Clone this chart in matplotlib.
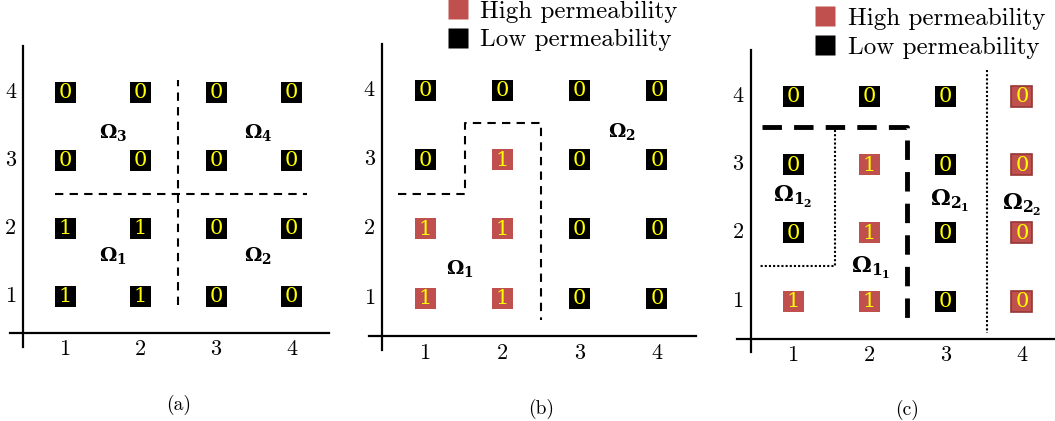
import matplotlib
matplotlib.use("Agg")
import matplotlib.pyplot as plt
from matplotlib.patches import Rectangle
from matplotlib.lines import Line2D

plt.rcParams["mathtext.fontset"] = "custom"
plt.rcParams["mathtext.rm"] = "cmr10"
plt.rcParams["mathtext.bf"] = "DejaVu Serif:bold"
plt.rcParams["axes.unicode_minus"] = False

W, H = 1055, 421
TICKS = [1, 2, 3, 4]
HIGH_COLOR = "#c0504d"
LOW_COLOR = "#000000"

# rows from y=1 upward, columns x=1..4
VALUES_A = [[1, 1, 0, 0], [1, 1, 0, 0], [0, 0, 0, 0], [0, 0, 0, 0]]
PERM_A = [["L", "L", "L", "L"]] * 4
VALUES_B = [[1, 1, 0, 0], [1, 1, 0, 0], [0, 1, 0, 0], [0, 0, 0, 0]]
PERM_B = [["H", "H", "L", "L"], ["H", "H", "L", "L"],
          ["L", "H", "L", "L"], ["L", "L", "L", "L"]]
VALUES_C = [[1, 1, 0, 0], [0, 1, 0, 0], [0, 1, 0, 0], [0, 0, 0, 0]]
PERM_C = [["H", "H", "L", "H"], ["L", "H", "L", "H"],
          ["L", "H", "L", "H"], ["L", "L", "L", "H"]]

# subdomain boundaries (x list, y list, style)
BOUNDS_A = [([2.5, 2.5], [0.87, 4.18], "thin"), ([0.87, 4.2], [2.5, 2.5], "thin")]
BOUNDS_B = [([0.65, 1.52, 1.52, 2.5, 2.5], [2.5, 2.5, 3.52, 3.52, 0.68], "thin")]
BOUNDS_C = [([0.6, 2.5, 2.5], [3.55, 3.55, 0.67], "thick"),
            ([1.55, 1.55, 0.55], [3.5, 1.51, 1.51], "dot"),
            ([3.54, 3.54], [4.38, 0.53], "dot")]

LABELS_A = [(1.64, 3.41, "3"), (3.56, 3.41, "4"), (1.64, 1.59, "1"), (3.56, 1.59, "2")]
LABELS_B = [(1.45, 1.43, "1"), (3.55, 3.4, "2")]
LABELS_C = [(1.0, 2.52, "1_2"), (2.02, 1.48, "1_1"), (3.05, 2.46, "2_1"), (4.0, 2.4, "2_2")]

LEGEND_LABELS = ["High permeability", "Low permeability"]

XLIM = (0.15, 4.75)
YLIM = (0.1, 4.75)


def rect(x1, xs, y1, ys):
    left = x1 + (XLIM[0] - 1) * xs
    width = (XLIM[1] - XLIM[0]) * xs
    top = y1 - (YLIM[1] - 1) * ys
    bottom = y1 - (YLIM[0] - 1) * ys
    return [left / W, 1 - bottom / H, width / W, (bottom - top) / H]


def draw_panel(ax, values, perm, bounds, labels, xs, ys, legend=False, caption="",
               label_size=14):
    ax.set_xlim(*XLIM)
    ax.set_ylim(*YLIM)
    ax.axis("off")

    # axes lines crossing each other
    ax.plot([0.45, 0.45], [0.25, 4.67], color="black", lw=1.6, clip_on=False)
    ax.plot([0.27, 4.5], [0.45, 0.45], color="black", lw=1.6, clip_on=False)
    for t in TICKS:
        ax.text(t, 0.21, str(t), ha="center", va="center", fontsize=16, family="cmr10")
        ax.text(0.28, t, str(t), ha="center", va="center", fontsize=16, family="cmr10")

    bw, bh = 21 / xs, 21 / ys
    for r, row in enumerate(values):
        for c, v in enumerate(row):
            x, y = TICKS[c], TICKS[r]
            high = perm[r][c] == "H"
            edge = "#943634" if (high and v == 0) else "none"
            ax.add_patch(Rectangle((x - bw / 2, y - bh / 2), bw, bh,
                                   facecolor=HIGH_COLOR if high else LOW_COLOR,
                                   edgecolor=edge, lw=1.2))
            ax.text(x, y - 0.01, str(v), ha="center", va="center", color="#ffff00",
                    fontsize=15, family="DejaVu Serif")

    for bx, by, style in bounds:
        if style == "thin":
            ax.plot(bx, by, color="black", lw=1.5, ls=(0, (4, 3)))
        elif style == "thick":
            ax.plot(bx, by, color="black", lw=3.5, ls=(0, (4, 2.5)))
        else:
            ax.plot(bx, by, color="black", lw=1.5, ls=(0, (1, 1)))

    for lx, ly, sub in labels:
        ax.text(lx, ly, rf"$\mathbf{{\Omega_{{{sub}}}}}$",
                ha="center", va="center", fontsize=label_size)

    if legend:
        handles = [
            Line2D([], [], ls="none", marker="s", markersize=15,
                   markerfacecolor=HIGH_COLOR, markeredgecolor="none"),
            Line2D([], [], ls="none", marker="s", markersize=15,
                   markerfacecolor=LOW_COLOR, markeredgecolor="none"),
        ]
        ax.legend(handles, LEGEND_LABELS,
                  loc="upper left", bbox_to_anchor=(1.26, YLIM[1] + 0.55),
                  bbox_transform=ax.transData, frameon=False,
                  prop={"family": "cmr10", "size": 18},
                  handlelength=1.0, handletextpad=0.4, borderpad=0,
                  borderaxespad=0, labelspacing=0.25)

    ax.text(2.5, -0.6, f"({caption})", ha="center", va="center",
            fontsize=14, family="cmr10", clip_on=False)


fig = plt.figure(figsize=(W / 100, H / 100), dpi=100)

ax_a = fig.add_axes(rect(65, 75.5, 296, 68))
draw_panel(ax_a, VALUES_A, PERM_A, BOUNDS_A, LABELS_A, 75.5, 68, caption="a")

ax_b = fig.add_axes(rect(425, 77.3, 298, 69.3))
draw_panel(ax_b, VALUES_B, PERM_B, BOUNDS_B, LABELS_B, 77.3, 69.3, legend=True, caption="b")

ax_c = fig.add_axes(rect(793, 76.3, 301, 68.3))
draw_panel(ax_c, VALUES_C, PERM_C, BOUNDS_C, LABELS_C, 76.3, 68.3, legend=True, caption="c",
           label_size=16)

fig.savefig("out.png", dpi=100, facecolor="white")
